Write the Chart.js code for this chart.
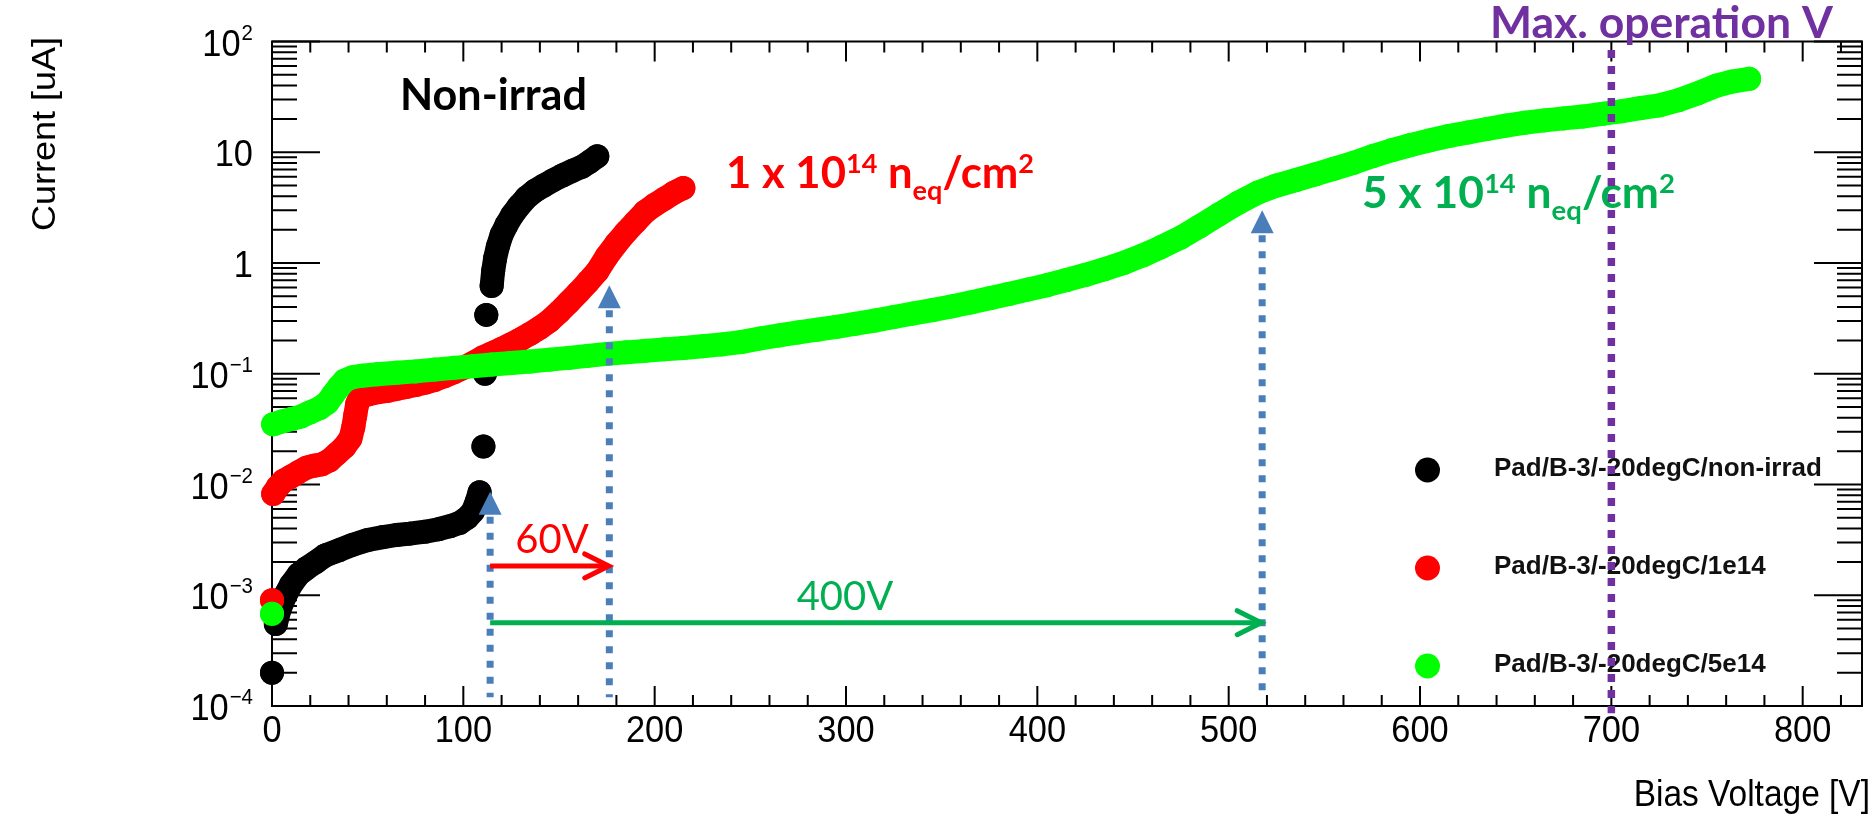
<!DOCTYPE html>
<html>
<head>
<meta charset="utf-8">
<script src="https://cdn.jsdelivr.net/npm/chart.js@4.4.1/dist/chart.umd.min.js"></script>
<style>
html,body{margin:0;padding:0;background:#fff;overflow:hidden}
canvas{display:block}
</style>
</head>
<body>
<canvas id="c" width="1874" height="817" style="width:1874px;height:817px"></canvas>
<script>
// ---------------- DATA ----------------
const xTickLabels = [0, 100, 200, 300, 400, 500, 600, 700, 800];
const yTickExponents = [-4, -3, -2, -1, 0, 1, 2];
const seriesNames = ['Pad/B-3/-20degC/non-irrad', 'Pad/B-3/-20degC/1e14', 'Pad/B-3/-20degC/5e14'];

// Non-irradiated (null = gap between measured points)
const nonIrradV = [0, 1, 2, 4, 7, 10, 14, 18, 23, 28,
  35, 42, 50, 58, 65, 72, 80, 87, 93, 98,
  102, 105, 107, 108.5, 109.5, 110.5, 111, 111.3, 111.6, 112,
  113, 114.8, 115.6, 116.6, 118, 120, 122.5, 125.5, 129, 133,
  137.5, 142, 147, 152, 157, 162, 166, 170];
const nonIrradI = [2.0e-4, null, 5.5e-4, 7.5e-4, 1.0e-3, 1.25e-3, 1.55e-3, 1.75e-3, 2.0e-3, 2.3e-3,
  2.55e-3, 2.85e-3, 3.15e-3, 3.35e-3, 3.5e-3, 3.6e-3, 3.75e-3, 3.95e-3, 4.2e-3, 4.5e-3,
  5.0e-3, 5.7e-3, 7.0e-3, 8.5e-3, null, 0.022, null, 0.10, null, 0.34,
  null, 0.62, 0.85, 1.1, 1.4, 1.8, 2.2, 2.7, 3.25, 3.9,
  4.5, 5.0, 5.6, 6.2, 6.8, 7.4, 8.2, 9.2];

// 1e14 neq/cm2
const irr1e14V = [0, 0.3, 0.6, 3, 6, 10, 14, 18, 22, 26,
  30, 34, 38, 41, 42.5, 43.5, 44.5, 46, 50, 55,
  60, 65, 70, 75, 80, 85, 90, 95, 100, 105,
  110, 115, 120, 125, 130, 135, 140, 145, 150, 155,
  160, 165, 170, 175, 180, 185, 190, 195, 200, 205,
  210, 215];
const irr1e14I = [9.0e-4, null, 8.2e-3, 9.5e-3, 0.0108, 0.0118, 0.013, 0.0142, 0.0148, 0.0152,
  0.0165, 0.019, 0.022, 0.026, 0.033, 0.042, 0.053, 0.062, 0.065, 0.068,
  0.070, 0.073, 0.076, 0.079, 0.083, 0.088, 0.095, 0.103, 0.113, 0.125,
  0.14, 0.153, 0.168, 0.185, 0.205, 0.23, 0.26, 0.30, 0.36, 0.44,
  0.54, 0.67, 0.84, 1.15, 1.5, 1.9, 2.35, 2.9, 3.35, 3.8,
  4.3, 4.75];

// 5e14 neq/cm2
const irr5e14V = [0, 0.3, 0.6, 5, 10, 15, 20, 25, 29, 32,
  35, 38, 42, 47, 55, 65, 75, 85, 95, 105,
  115, 125, 135, 145, 155, 165, 175, 185, 195, 205,
  215, 225, 235, 245, 255, 265, 275, 285, 295, 305,
  315, 325, 335, 345, 355, 365, 375, 385, 395, 405,
  415, 425, 435, 445, 455, 465, 475, 485, 495, 505,
  515, 525, 535, 545, 555, 565, 575, 585, 595, 605,
  615, 625, 635, 645, 655, 665, 675, 685, 695, 705,
  715, 725, 735, 745, 755, 763, 772];
const irr5e14I = [6.8e-4, null, 0.035, 0.037, 0.039, 0.041, 0.045, 0.049, 0.055, 0.065,
  0.076, 0.087, 0.093, 0.096, 0.099, 0.102, 0.105, 0.109, 0.113, 0.117,
  0.121, 0.125, 0.129, 0.134, 0.139, 0.145, 0.151, 0.156, 0.161, 0.166,
  0.171, 0.177, 0.184, 0.193, 0.208, 0.222, 0.236, 0.25, 0.265, 0.283,
  0.302, 0.325, 0.35, 0.375, 0.405, 0.44, 0.48, 0.525, 0.575, 0.63,
  0.70, 0.78, 0.88, 1.0, 1.17, 1.4, 1.7, 2.15, 2.75, 3.5,
  4.3, 5.0, 5.6, 6.3, 7.1, 8.0, 9.2, 10.4, 11.6, 12.8,
  14.0, 15.1, 16.2, 17.4, 18.5, 19.4, 20.2, 21.0, 22.2, 23.4,
  25.0, 26.5, 29.5, 34.0, 40.0, 43.5, 46.0];

// Annotations (data units)
const arrowVoltages = [114, 176.3, 517.5];
const arrowTipCurrents = [8.6e-3, 0.63, 3.0];
const arrowFootCurrent = 1.2e-4;
const maxOpVoltage = 700;
const maxOpRange = [84, 8.6e-5];
const shiftFromV = [114, 114];
const shiftToV = [176, 517];
const shiftCurrents = [1.84e-3, 5.65e-4];
const shiftLabels = ['60V', '400V'];

// ---------------- STYLE ----------------
const COLORS = ['#000000', '#ff0000', '#00ff00'];
const AXIS_FONT = '"Liberation Sans", Arial, Helvetica, sans-serif';
const ANN_FONT = 'Lato, Carlito, "Open Sans", sans-serif';
const SQ = 0.93;

function pts(V, I) { return V.map((v, i) => ({ x: v, y: I[i] })); }
function mk(label, V, I, color, order) {
  return {
    label, data: pts(V, I), showLine: true, spanGaps: false,
    borderColor: color, backgroundColor: color, borderWidth: 24,
    borderCapStyle: 'round', borderJoinStyle: 'round',
    pointRadius: 12, pointHoverRadius: 12, pointBackgroundColor: color,
    pointBorderWidth: 0, order, clip: false
  };
}

function sqText(ctx, txt, x, y, align) {
  ctx.save(); ctx.translate(x, y); ctx.scale(SQ, 1);
  ctx.textAlign = align; ctx.fillText(txt, 0, 0); ctx.restore();
}

function drawRich(ctx, parts, x, baseY, targetW, color) {
  const base = 42;
  let w = 0;
  for (const p of parts) { ctx.font = `bold ${base * p[1]}px ${ANN_FONT}`; w += ctx.measureText(p[0]).width; }
  const k = targetW / w;
  let cx = x;
  ctx.fillStyle = color; ctx.textAlign = 'left'; ctx.textBaseline = 'alphabetic';
  for (const p of parts) {
    ctx.font = `bold ${base * k * p[1]}px ${ANN_FONT}`;
    ctx.fillText(p[0], cx, baseY + p[2] * base * k);
    cx += ctx.measureText(p[0]).width;
  }
}
function drawFit(ctx, txt, x, baseY, targetW, weight, color, align) {
  ctx.font = `${weight} 42px ${ANN_FONT}`;
  const s = 42 * targetW / ctx.measureText(txt).width;
  ctx.font = `${weight} ${s}px ${ANN_FONT}`;
  ctx.fillStyle = color; ctx.textAlign = align || 'left'; ctx.textBaseline = 'alphabetic';
  ctx.fillText(txt, x, baseY);
}

// ---------------- PLUGINS ----------------
const framePlugin = {
  id: 'rootFrame',
  beforeDatasetsDraw(chart) {
    const { ctx, chartArea: a, scales: { x, y } } = chart;
    ctx.save();
    ctx.strokeStyle = '#000'; ctx.lineWidth = 2;
    ctx.strokeRect(a.left, a.top, a.right - a.left, a.bottom - a.top);
    ctx.beginPath();
    for (let v = 0; v <= x.max; v += 20) {
      const px = x.getPixelForValue(v);
      const len = (v % 100 === 0) ? 20 : 11;
      ctx.moveTo(px, a.bottom); ctx.lineTo(px, a.bottom - len);
      ctx.moveTo(px, a.top); ctx.lineTo(px, a.top + len);
    }
    for (let e = -4; e <= 2; e++) {
      for (let m = 1; m <= 9; m++) {
        const v = m * Math.pow(10, e);
        if (v > y.max * 1.0001) break;
        const py = y.getPixelForValue(v);
        const len = m === 1 ? 48 : 25;
        ctx.moveTo(a.left, py); ctx.lineTo(a.left + len, py);
        ctx.moveTo(a.right, py); ctx.lineTo(a.right - len, py);
      }
    }
    ctx.stroke();

    // tick labels
    ctx.fillStyle = '#000'; ctx.textBaseline = 'alphabetic';
    ctx.font = `37px ${AXIS_FONT}`;
    for (const v of xTickLabels) sqText(ctx, String(v), x.getPixelForValue(v), a.bottom + 36, 'center');
    const rightEdge = a.left - 19;
    for (const e of yTickExponents) {
      const py = y.getPixelForValue(Math.pow(10, e));
      const baseTxt = e === 0 ? '1' : '10';
      const supTxt = (e === 0 || e === 1) ? '' : (e < 0 ? '\u2212' + (-e) : String(e));
      ctx.font = `22px ${AXIS_FONT}`;
      const supW = supTxt ? ctx.measureText(supTxt).width * SQ : 0;
      ctx.font = `37px ${AXIS_FONT}`;
      const bx = rightEdge - supW - (supTxt ? 1 : 0);
      sqText(ctx, baseTxt, bx, py + 14, 'right');
      if (supTxt) { ctx.font = `22px ${AXIS_FONT}`; sqText(ctx, supTxt, rightEdge, py - 2, 'right'); }
    }
    // axis titles
    ctx.font = `36px ${AXIS_FONT}`;
    sqText(ctx, 'Bias Voltage [V]', 1870, 806, 'right');
    ctx.save();
    ctx.translate(55, 37); ctx.rotate(-Math.PI / 2); ctx.scale(1, SQ);
    ctx.textAlign = 'right'; ctx.fillText('Current [uA]', 0, 0);
    ctx.restore();
    ctx.restore();
  }
};

const annotationPlugin = {
  id: 'annotations',
  afterDatasetsDraw(chart) {
    const { ctx, scales: { x, y } } = chart;
    ctx.save();
    // legend
    const legY = [470, 568, 666];
    seriesNames.forEach((n, i) => {
      ctx.fillStyle = COLORS[i];
      ctx.beginPath(); ctx.arc(1427.5, legY[i], 12.5, 0, Math.PI * 2); ctx.fill();
      ctx.fillStyle = '#111'; ctx.font = `bold 26px ${AXIS_FONT}`;
      ctx.textAlign = 'left'; ctx.textBaseline = 'alphabetic';
      ctx.fillText(n, 1494, legY[i] + 6);
    });

    // labels
    drawFit(ctx, 'Non-irrad', 400, 110, 187, 'bold', '#000');
    const flu = (n) => [[n + ' x 10', 1, 0], ['14', 0.62, -0.34], [' n', 1, 0], ['eq', 0.62, 0.27], ['/cm', 1, 0], ['2', 0.62, -0.34]];
    drawRich(ctx, flu('1'), 726, 188, 308, '#ff0000');
    drawRich(ctx, flu('5'), 1362, 208, 313, '#00b050');
    drawFit(ctx, 'Max. operation V', 1490, 38, 343, 'bold', '#7030a0');

    // blue dashed arrows
    ctx.fillStyle = '#4a7ebb'; ctx.strokeStyle = '#4a7ebb';
    arrowVoltages.forEach((v, i) => {
      const px = x.getPixelForValue(v);
      const tip = y.getPixelForValue(arrowTipCurrents[i]);
      const foot = y.getPixelForValue(arrowFootCurrent);
      ctx.beginPath(); ctx.moveTo(px, tip); ctx.lineTo(px - 11.5, tip + 23); ctx.lineTo(px + 11.5, tip + 23); ctx.closePath(); ctx.fill();
      ctx.setLineDash([7, 9]); ctx.lineWidth = 7; ctx.lineCap = 'butt';
      ctx.beginPath(); ctx.moveTo(px, tip + 25); ctx.lineTo(px, foot); ctx.stroke();
      ctx.setLineDash([]);
    });

    // shift arrows
    const shiftColors = ['#ff0000', '#00b050'];
    shiftLabels.forEach((lab, i) => {
      const x0 = x.getPixelForValue(shiftFromV[i]);
      const x1 = x.getPixelForValue(shiftToV[i]);
      const py = y.getPixelForValue(shiftCurrents[i]);
      ctx.strokeStyle = shiftColors[i]; ctx.lineWidth = 5; ctx.lineCap = 'butt'; ctx.lineJoin = 'miter';
      ctx.beginPath(); ctx.moveTo(x0, py); ctx.lineTo(x1 - 2, py); ctx.stroke();
      ctx.lineCap = 'round';
      ctx.beginPath(); ctx.moveTo(x1 - 24, py - 12); ctx.lineTo(x1, py); ctx.lineTo(x1 - 24, py + 12); ctx.stroke();
      ctx.fillStyle = shiftColors[i];
      ctx.font = `40px ${ANN_FONT}`; ctx.textAlign = 'center'; ctx.textBaseline = 'alphabetic';
      const cx = i === 0 ? 552 : 845;
      ctx.fillText(lab, cx, py - 13);
    });

    // max operation voltage line
    const pxm = x.getPixelForValue(maxOpVoltage);
    ctx.strokeStyle = '#7030a0'; ctx.lineWidth = 7.5; ctx.lineCap = 'butt';
    ctx.setLineDash([8, 8]);
    ctx.beginPath(); ctx.moveTo(pxm, y.getPixelForValue(maxOpRange[0])); ctx.lineTo(pxm, y.getPixelForValue(maxOpRange[1])); ctx.stroke();
    ctx.setLineDash([]);
    ctx.restore();
  }
};

// ---------------- CHART ----------------
new Chart(document.getElementById('c').getContext('2d'), {
  type: 'scatter',
  data: {
    datasets: [
      mk(seriesNames[2], irr5e14V, irr5e14I, COLORS[2], 1),
      mk(seriesNames[1], irr1e14V, irr1e14I, COLORS[1], 2),
      mk(seriesNames[0], nonIrradV, nonIrradI, COLORS[0], 3)
    ]
  },
  options: {
    responsive: false,
    animation: false,
    devicePixelRatio: 1,
    layout: { padding: { left: 0, right: 1, top: 41.5, bottom: 0 } },
    plugins: { legend: { display: false }, tooltip: { enabled: false } },
    events: [],
    scales: {
      x: {
        type: 'linear', min: 0, max: 831,
        ticks: { display: false, stepSize: 100 },
        grid: { display: false }, border: { display: false },
        afterFit(s) { s.height = 111; }
      },
      y: {
        type: 'logarithmic', min: 1e-4, max: 100,
        ticks: { display: false },
        grid: { display: false }, border: { display: false },
        afterFit(s) { s.width = 272; }
      }
    }
  },
  plugins: [framePlugin, annotationPlugin]
});
</script>
</body>
</html>
